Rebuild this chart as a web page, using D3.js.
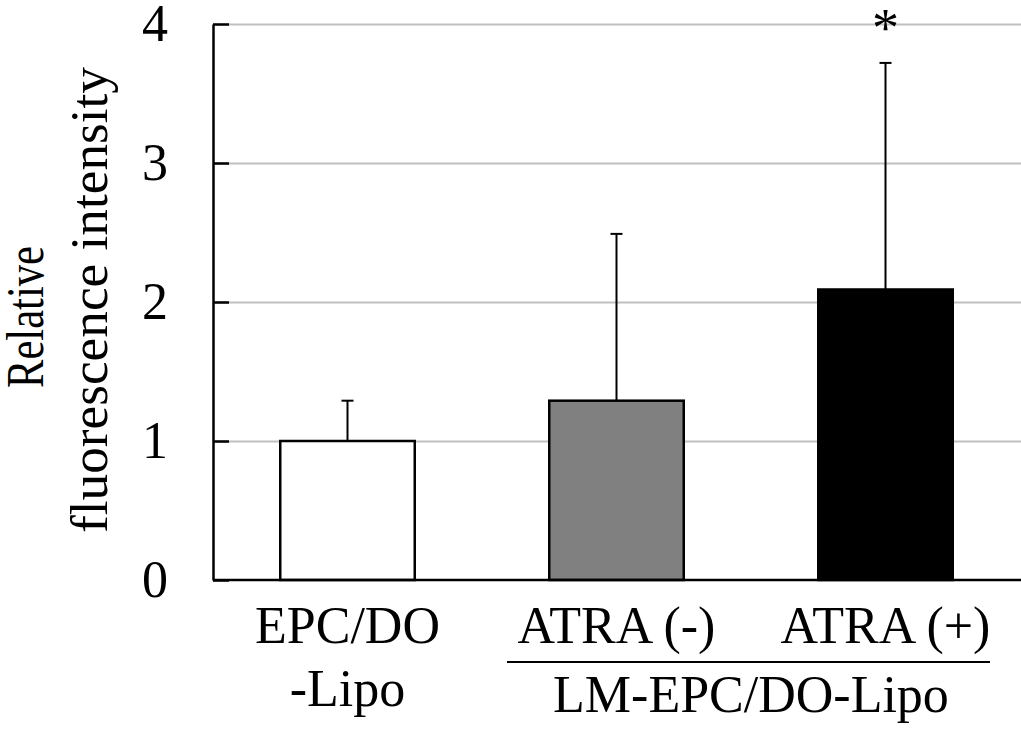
<!DOCTYPE html>
<html>
<head>
<meta charset="utf-8">
<script src="https://cdn.jsdelivr.net/npm/d3@7"></script>
<style>
  body { margin: 0; background: #fff; }
  svg { display: block; font-family: "Liberation Serif", "Times New Roman", serif; }
</style>
</head>
<body>
<div id="chart"></div>
<script>
// data
const groups = ['EPC/DO-Lipo', 'ATRA (-)', 'ATRA (+)'];
const means = [1.0, 1.29, 2.09];
const sds = [0.29, 1.2, 1.63];
const fills = ['#ffffff', '#808080', '#000000'];
const yTicks = [0, 1, 2, 3, 4];
const significant = [false, false, true];

const width = 1021, height = 731;
const plotLeft = 213, plotRight = 1020, plotTop = 24, plotBottom = 580;

const svg = d3.select('#chart').append('svg')
  .attr('width', width)
  .attr('height', height);

const x = d3.scaleBand()
  .domain(groups)
  .range([plotLeft, plotRight])
  .paddingInner(0.5)
  .paddingOuter(0.25);

const y = d3.scaleLinear()
  .domain([0, 4])
  .range([plotBottom, plotTop]);

// gray gridlines
svg.append('g')
  .attr('transform', `translate(${plotLeft},0)`)
  .call(d3.axisLeft(y).tickValues(yTicks.slice(1)).tickSize(-(width - plotLeft)).tickFormat(''))
  .call(g => g.select('.domain').remove())
  .call(g => g.selectAll('line').attr('stroke', '#c0c0c0').attr('stroke-width', 2));

// y axis, ticks pointing inward
svg.append('g')
  .attr('transform', `translate(${plotLeft},0)`)
  .call(d3.axisLeft(y).tickValues(yTicks).tickFormat(d3.format('d'))
    .tickSize(-16).tickSizeOuter(0).tickPadding(45))
  .call(g => g.select('.domain').attr('stroke', '#000').attr('stroke-width', 2.5))
  .call(g => g.selectAll('line').attr('stroke', '#000').attr('stroke-width', 2.5))
  .call(g => g.selectAll('text')
    .attr('fill', '#000')
    .style('font-family', '"Liberation Serif", serif')
    .style('font-size', '52px'));

// bars
svg.selectAll('rect.bar')
  .data(groups)
  .enter().append('rect')
  .attr('class', 'bar')
  .attr('x', d => x(d))
  .attr('y', (d, i) => y(means[i]))
  .attr('width', x.bandwidth())
  .attr('height', (d, i) => y(0) - y(means[i]))
  .attr('fill', (d, i) => fills[i])
  .attr('stroke', '#000')
  .attr('stroke-width', 2.5);

// error bars (upper only)
const err = svg.append('g').attr('stroke', '#000').attr('stroke-width', 2);
groups.forEach((d, i) => {
  const cx = x(d) + x.bandwidth() / 2;
  err.append('line')
    .attr('x1', cx).attr('x2', cx)
    .attr('y1', y(means[i])).attr('y2', y(means[i] + sds[i]));
  err.append('line')
    .attr('x1', cx - 6).attr('x2', cx + 6)
    .attr('y1', y(means[i] + sds[i])).attr('y2', y(means[i] + sds[i]));
});

// x axis line
svg.append('line')
  .attr('x1', plotLeft).attr('x2', width)
  .attr('y1', y(0)).attr('y2', y(0))
  .attr('stroke', '#000').attr('stroke-width', 2.5);

// significance marker
groups.forEach((d, i) => {
  if (!significant[i]) return;
  svg.append('text')
    .attr('x', x(d) + x.bandwidth() / 2)
    .attr('y', 46)
    .attr('text-anchor', 'middle')
    .style('font-size', '54px')
    .text('*');
});

// category labels
const lab = svg.append('g').attr('text-anchor', 'middle').style('font-size', '52px').attr('fill', '#000');
const c0 = x(groups[0]) + x.bandwidth() / 2;
lab.append('text').attr('x', c0).attr('y', 643).text('EPC/DO');
lab.append('text').attr('x', c0).attr('y', 706).text('-Lipo');
[1, 2].forEach(i => {
  lab.append('text')
    .attr('x', x(groups[i]) + x.bandwidth() / 2)
    .attr('y', 643)
    .text(groups[i]);
});
const gx1 = x(groups[1]) + x.bandwidth() / 2;
const gx2 = x(groups[2]) + x.bandwidth() / 2;
svg.append('line')
  .attr('x1', 507).attr('x2', 990)
  .attr('y1', 662).attr('y2', 662)
  .attr('stroke', '#000').attr('stroke-width', 2);
lab.append('text').attr('x', (gx1 + gx2) / 2).attr('y', 712).text('LM-EPC/DO-Lipo');

// y axis title (two lines, squeezed like the original)
svg.append('text')
  .attr('transform', 'translate(43,317) rotate(-90)')
  .attr('text-anchor', 'middle')
  .attr('textLength', 142)
  .attr('lengthAdjust', 'spacingAndGlyphs')
  .style('font-size', '52px')
  .text('Relative');
svg.append('text')
  .attr('transform', 'translate(107,300) rotate(-90)')
  .attr('text-anchor', 'middle')
  .attr('textLength', 466)
  .attr('lengthAdjust', 'spacingAndGlyphs')
  .style('font-size', '52px')
  .text('fluorescence intensity');
</script>
</body>
</html>
